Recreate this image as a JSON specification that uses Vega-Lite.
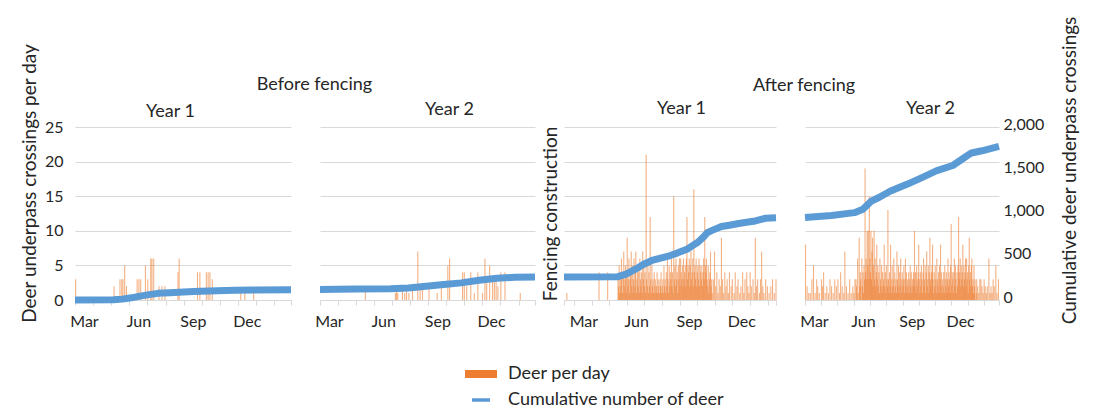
{
  "$schema": "https://vega.github.io/schema/vega-lite/v6.json",
  "background": "white",
  "padding": {"left": 20, "top": 15, "right": 4, "bottom": 5},
  "bounds": "flush",
  "spacing": 29,
  "config": {
    "font": "Lato",
    "view": {"stroke": null},
    "axis": {"labelFont": "Lato", "titleFont": "Lato", "labelColor": "#262626", "titleColor": "#262626", "titleFontWeight": "normal", "gridColor": "#d9d9d9", "gridWidth": 1},
    "title": {"font": "Lato", "fontWeight": "normal", "fontSize": 18, "color": "#262626", "frame": "group", "anchor": "middle"},
    "legend": {"labelFont": "Lato"}
  },
  "datasets": {
    "daily": [
      {"p":1,"d":1,"n":3},{"p":1,"d":66,"n":2},{"p":1,"d":76,"n":3},{"p":1,"d":79,"n":3},{"p":1,"d":81,"n":3},{"p":1,"d":84,"n":5},{"p":1,"d":87,"n":2},{"p":1,"d":105,"n":3},{"p":1,"d":108,"n":3},{"p":1,"d":111,"n":3},{"p":1,"d":119,"n":5},{"p":1,"d":123,"n":3},{"p":1,"d":128,"n":6},{"p":1,"d":130,"n":6},{"p":1,"d":133,"n":6},{"p":1,"d":142,"n":2},{"p":1,"d":147,"n":2},{"p":1,"d":152,"n":2},{"p":1,"d":174,"n":4},{"p":1,"d":176,"n":6},{"p":1,"d":207,"n":4},{"p":1,"d":211,"n":4},{"p":1,"d":222,"n":4},{"p":1,"d":225,"n":4},{"p":1,"d":228,"n":4},{"p":1,"d":232,"n":3},{"p":1,"d":280,"n":1},{"p":1,"d":287,"n":1},{"p":1,"d":302,"n":1},
      {"p":2,"d":77,"n":2},{"p":2,"d":128,"n":1},{"p":2,"d":130,"n":2},{"p":2,"d":132,"n":1},{"p":2,"d":140,"n":2},{"p":2,"d":144,"n":1},{"p":2,"d":147,"n":2},{"p":2,"d":151,"n":1},{"p":2,"d":157,"n":2},{"p":2,"d":166,"n":7},{"p":2,"d":170,"n":2},{"p":2,"d":174,"n":2},{"p":2,"d":185,"n":2},{"p":2,"d":199,"n":1},{"p":2,"d":206,"n":2},{"p":2,"d":217,"n":5},{"p":2,"d":220,"n":6},{"p":2,"d":242,"n":4},{"p":2,"d":245,"n":4},{"p":2,"d":249,"n":2},{"p":2,"d":256,"n":4},{"p":2,"d":262,"n":1},{"p":2,"d":268,"n":4},{"p":2,"d":276,"n":1},{"p":2,"d":280,"n":6},{"p":2,"d":283,"n":3},{"p":2,"d":288,"n":5},{"p":2,"d":293,"n":3},{"p":2,"d":296,"n":3},{"p":2,"d":299,"n":3},{"p":2,"d":302,"n":2},{"p":2,"d":307,"n":4},{"p":2,"d":314,"n":4},{"p":2,"d":340,"n":1},
      {"p":3,"d":-13,"n":1},{"p":3,"d":43,"n":4},{"p":3,"d":58,"n":4},
      {"p":3,"d":76,"n":3},{"p":3,"d":77,"n":2},{"p":3,"d":78,"n":5},{"p":3,"d":79,"n":1},{"p":3,"d":80,"n":4},{"p":3,"d":81,"n":2},{"p":3,"d":82,"n":6},{"p":3,"d":83,"n":3},{"p":3,"d":84,"n":1},{"p":3,"d":85,"n":4},{"p":3,"d":86,"n":7},{"p":3,"d":87,"n":2},{"p":3,"d":88,"n":3},{"p":3,"d":89,"n":5},{"p":3,"d":90,"n":1},{"p":3,"d":91,"n":4},{"p":3,"d":92,"n":9},{"p":3,"d":93,"n":2},{"p":3,"d":94,"n":3},{"p":3,"d":95,"n":6},{"p":3,"d":96,"n":1},{"p":3,"d":97,"n":3},{"p":3,"d":98,"n":4},{"p":3,"d":99,"n":7},{"p":3,"d":100,"n":2},{"p":3,"d":101,"n":5},{"p":3,"d":102,"n":1},{"p":3,"d":103,"n":3},{"p":3,"d":104,"n":6},{"p":3,"d":105,"n":2},{"p":3,"d":106,"n":4},{"p":3,"d":107,"n":7},{"p":3,"d":108,"n":1},{"p":3,"d":109,"n":3},{"p":3,"d":110,"n":5},{"p":3,"d":111,"n":2},{"p":3,"d":112,"n":4},{"p":3,"d":113,"n":1},{"p":3,"d":114,"n":6},{"p":3,"d":115,"n":3},{"p":3,"d":116,"n":2},{"p":3,"d":117,"n":4},{"p":3,"d":118,"n":1},{"p":3,"d":119,"n":7},{"p":3,"d":120,"n":3},{"p":3,"d":121,"n":5},{"p":3,"d":122,"n":2},{"p":3,"d":123,"n":4},{"p":3,"d":124,"n":1},{"p":3,"d":125,"n":21},{"p":3,"d":126,"n":3},{"p":3,"d":127,"n":2},{"p":3,"d":128,"n":5},{"p":3,"d":129,"n":1},{"p":3,"d":130,"n":4},{"p":3,"d":131,"n":2},{"p":3,"d":132,"n":12},{"p":3,"d":133,"n":3},{"p":3,"d":134,"n":1},{"p":3,"d":135,"n":5},{"p":3,"d":136,"n":2},{"p":3,"d":137,"n":3},{"p":3,"d":138,"n":1},{"p":3,"d":139,"n":4},{"p":3,"d":140,"n":2},{"p":3,"d":141,"n":3},{"p":3,"d":142,"n":1},{"p":3,"d":143,"n":2},{"p":3,"d":144,"n":4},{"p":3,"d":145,"n":1},{"p":3,"d":146,"n":3},{"p":3,"d":147,"n":2},{"p":3,"d":148,"n":1},{"p":3,"d":149,"n":3},{"p":3,"d":150,"n":2},{"p":3,"d":151,"n":4},{"p":3,"d":152,"n":1},{"p":3,"d":153,"n":2},{"p":3,"d":154,"n":3},{"p":3,"d":155,"n":1},{"p":3,"d":156,"n":5},{"p":3,"d":157,"n":2},{"p":3,"d":158,"n":3},{"p":3,"d":159,"n":1},{"p":3,"d":160,"n":4},{"p":3,"d":161,"n":2},{"p":3,"d":162,"n":6},{"p":3,"d":163,"n":3},{"p":3,"d":164,"n":1},{"p":3,"d":165,"n":5},{"p":3,"d":166,"n":2},{"p":3,"d":167,"n":4},{"p":3,"d":168,"n":3},{"p":3,"d":169,"n":6},{"p":3,"d":170,"n":2},{"p":3,"d":171,"n":4},{"p":3,"d":172,"n":1},{"p":3,"d":173,"n":15},{"p":3,"d":174,"n":3},{"p":3,"d":175,"n":5},{"p":3,"d":176,"n":2},{"p":3,"d":177,"n":6},{"p":3,"d":178,"n":3},{"p":3,"d":179,"n":4},{"p":3,"d":180,"n":1},{"p":3,"d":181,"n":5},{"p":3,"d":182,"n":3},{"p":3,"d":183,"n":6},{"p":3,"d":184,"n":2},{"p":3,"d":185,"n":6},{"p":3,"d":186,"n":4},{"p":3,"d":187,"n":3},{"p":3,"d":188,"n":5},{"p":3,"d":189,"n":2},{"p":3,"d":190,"n":6},{"p":3,"d":191,"n":3},{"p":3,"d":192,"n":4},{"p":3,"d":193,"n":5},{"p":3,"d":194,"n":2},{"p":3,"d":195,"n":6},{"p":3,"d":196,"n":12},{"p":3,"d":197,"n":3},{"p":3,"d":198,"n":5},{"p":3,"d":199,"n":4},{"p":3,"d":200,"n":6},{"p":3,"d":201,"n":2},{"p":3,"d":202,"n":5},{"p":3,"d":203,"n":7},{"p":3,"d":204,"n":3},{"p":3,"d":205,"n":4},{"p":3,"d":206,"n":6},{"p":3,"d":207,"n":2},{"p":3,"d":208,"n":16},{"p":3,"d":209,"n":4},{"p":3,"d":210,"n":5},{"p":3,"d":211,"n":3},{"p":3,"d":212,"n":6},{"p":3,"d":213,"n":2},{"p":3,"d":214,"n":4},{"p":3,"d":215,"n":5},{"p":3,"d":216,"n":3},{"p":3,"d":217,"n":6},{"p":3,"d":218,"n":2},{"p":3,"d":219,"n":5},{"p":3,"d":220,"n":4},{"p":3,"d":221,"n":3},{"p":3,"d":222,"n":5},{"p":3,"d":223,"n":2},{"p":3,"d":224,"n":4},{"p":3,"d":225,"n":6},{"p":3,"d":226,"n":3},{"p":3,"d":227,"n":12},{"p":3,"d":228,"n":5},{"p":3,"d":229,"n":4},{"p":3,"d":230,"n":6},{"p":3,"d":231,"n":3},{"p":3,"d":232,"n":2},{"p":3,"d":233,"n":5},{"p":3,"d":234,"n":1},{"p":3,"d":235,"n":3},{"p":3,"d":236,"n":4},{"p":3,"d":237,"n":7},{"p":3,"d":238,"n":2},{"p":3,"d":239,"n":3},{"p":3,"d":240,"n":1},
      {"p":3,"d":242,"n":3},{"p":3,"d":244,"n":7},{"p":3,"d":246,"n":2},{"p":3,"d":248,"n":4},{"p":3,"d":250,"n":1},{"p":3,"d":252,"n":3},{"p":3,"d":254,"n":2},{"p":3,"d":256,"n":9},{"p":3,"d":258,"n":3},{"p":3,"d":260,"n":1},{"p":3,"d":262,"n":4},{"p":3,"d":264,"n":2},{"p":3,"d":266,"n":3},{"p":3,"d":268,"n":1},{"p":3,"d":270,"n":4},{"p":3,"d":273,"n":2},{"p":3,"d":275,"n":3},{"p":3,"d":278,"n":1},{"p":3,"d":280,"n":4},{"p":3,"d":283,"n":2},{"p":3,"d":285,"n":3},{"p":3,"d":288,"n":1},{"p":3,"d":290,"n":2},{"p":3,"d":293,"n":4},{"p":3,"d":295,"n":1},{"p":3,"d":297,"n":3},{"p":3,"d":300,"n":4},{"p":3,"d":302,"n":2},{"p":3,"d":304,"n":1},{"p":3,"d":306,"n":4},{"p":3,"d":308,"n":2},{"p":3,"d":311,"n":3},{"p":3,"d":313,"n":1},{"p":3,"d":315,"n":9},{"p":3,"d":317,"n":2},{"p":3,"d":319,"n":3},{"p":3,"d":322,"n":1},{"p":3,"d":324,"n":3},{"p":3,"d":326,"n":7},{"p":3,"d":328,"n":2},{"p":3,"d":330,"n":1},{"p":3,"d":333,"n":3},{"p":3,"d":336,"n":2},{"p":3,"d":339,"n":1},{"p":3,"d":342,"n":2},{"p":3,"d":345,"n":3},{"p":3,"d":348,"n":1},{"p":3,"d":351,"n":3},
      {"p":4,"d":1,"n":8},{"p":4,"d":4,"n":2},{"p":4,"d":7,"n":1},{"p":4,"d":10,"n":1},{"p":4,"d":13,"n":3},{"p":4,"d":16,"n":5},{"p":4,"d":19,"n":1},{"p":4,"d":22,"n":3},{"p":4,"d":24,"n":2},{"p":4,"d":27,"n":1},{"p":4,"d":31,"n":3},{"p":4,"d":33,"n":2},{"p":4,"d":35,"n":4},{"p":4,"d":38,"n":1},{"p":4,"d":41,"n":2},{"p":4,"d":44,"n":1},{"p":4,"d":47,"n":3},{"p":4,"d":50,"n":2},{"p":4,"d":53,"n":1},{"p":4,"d":56,"n":3},{"p":4,"d":59,"n":2},{"p":4,"d":62,"n":3},{"p":4,"d":65,"n":1},{"p":4,"d":67,"n":4},{"p":4,"d":70,"n":2},{"p":4,"d":73,"n":1},{"p":4,"d":75,"n":7},{"p":4,"d":78,"n":2},{"p":4,"d":81,"n":1},{"p":4,"d":84,"n":3},{"p":4,"d":87,"n":1},{"p":4,"d":90,"n":2},{"p":4,"d":92,"n":1},{"p":4,"d":94,"n":3},{"p":4,"d":96,"n":3},{"p":4,"d":97,"n":2},{"p":4,"d":99,"n":6},{"p":4,"d":100,"n":1},{"p":4,"d":102,"n":9},{"p":4,"d":103,"n":2},{"p":4,"d":104,"n":4},{"p":4,"d":105,"n":3},{"p":4,"d":107,"n":6},{"p":4,"d":108,"n":2},{"p":4,"d":109,"n":4},{"p":4,"d":110,"n":1},{"p":4,"d":111,"n":5},{"p":4,"d":112,"n":3},{"p":4,"d":113,"n":19},{"p":4,"d":114,"n":4},{"p":4,"d":115,"n":6},{"p":4,"d":116,"n":3},{"p":4,"d":117,"n":10},{"p":4,"d":118,"n":5},{"p":4,"d":119,"n":10},{"p":4,"d":120,"n":3},{"p":4,"d":121,"n":15},{"p":4,"d":122,"n":6},{"p":4,"d":123,"n":4},{"p":4,"d":124,"n":10},{"p":4,"d":125,"n":3},{"p":4,"d":126,"n":7},{"p":4,"d":127,"n":9},{"p":4,"d":128,"n":2},{"p":4,"d":129,"n":5},{"p":4,"d":130,"n":10},{"p":4,"d":131,"n":3},{"p":4,"d":132,"n":6},{"p":4,"d":133,"n":2},{"p":4,"d":134,"n":4},{"p":4,"d":135,"n":8},{"p":4,"d":136,"n":3},{"p":4,"d":137,"n":5},{"p":4,"d":138,"n":2},{"p":4,"d":139,"n":4},{"p":4,"d":140,"n":1},{"p":4,"d":141,"n":6},{"p":4,"d":142,"n":3},{"p":4,"d":143,"n":2},{"p":4,"d":144,"n":5},{"p":4,"d":145,"n":1},{"p":4,"d":146,"n":4},{"p":4,"d":147,"n":2},{"p":4,"d":148,"n":3},{"p":4,"d":149,"n":8},{"p":4,"d":150,"n":2},{"p":4,"d":151,"n":4},{"p":4,"d":152,"n":1},{"p":4,"d":153,"n":5},{"p":4,"d":154,"n":3},{"p":4,"d":155,"n":2},{"p":4,"d":156,"n":13},{"p":4,"d":157,"n":3},{"p":4,"d":158,"n":1},{"p":4,"d":159,"n":4},{"p":4,"d":160,"n":2},{"p":4,"d":161,"n":8},{"p":4,"d":162,"n":3},{"p":4,"d":163,"n":1},{"p":4,"d":164,"n":5},{"p":4,"d":165,"n":2},{"p":4,"d":166,"n":3},{"p":4,"d":167,"n":6},{"p":4,"d":168,"n":1},{"p":4,"d":169,"n":4},{"p":4,"d":170,"n":2},{"p":4,"d":171,"n":3},{"p":4,"d":172,"n":1},{"p":4,"d":173,"n":7},{"p":4,"d":174,"n":3},{"p":4,"d":175,"n":2},{"p":4,"d":176,"n":5},{"p":4,"d":177,"n":1},{"p":4,"d":178,"n":4},{"p":4,"d":179,"n":2},{"p":4,"d":180,"n":6},{"p":4,"d":181,"n":3},{"p":4,"d":182,"n":1},{"p":4,"d":183,"n":4},{"p":4,"d":184,"n":2},{"p":4,"d":185,"n":3},{"p":4,"d":186,"n":5},{"p":4,"d":187,"n":1},{"p":4,"d":188,"n":3},{"p":4,"d":189,"n":6},{"p":4,"d":190,"n":2},{"p":4,"d":191,"n":4},{"p":4,"d":192,"n":1},{"p":4,"d":193,"n":3},{"p":4,"d":194,"n":2},{"p":4,"d":195,"n":4},{"p":4,"d":196,"n":1},{"p":4,"d":197,"n":3},{"p":4,"d":198,"n":5},{"p":4,"d":199,"n":2},{"p":4,"d":200,"n":4},{"p":4,"d":201,"n":1},{"p":4,"d":202,"n":3},{"p":4,"d":203,"n":2},{"p":4,"d":204,"n":4},{"p":4,"d":205,"n":3},{"p":4,"d":206,"n":10},{"p":4,"d":207,"n":2},{"p":4,"d":208,"n":4},{"p":4,"d":209,"n":1},{"p":4,"d":210,"n":5},{"p":4,"d":211,"n":3},{"p":4,"d":212,"n":2},{"p":4,"d":213,"n":4},{"p":4,"d":214,"n":8},{"p":4,"d":215,"n":3},{"p":4,"d":216,"n":1},{"p":4,"d":217,"n":4},{"p":4,"d":218,"n":2},{"p":4,"d":219,"n":5},{"p":4,"d":220,"n":3},{"p":4,"d":221,"n":1},{"p":4,"d":222,"n":4},{"p":4,"d":223,"n":6},{"p":4,"d":224,"n":2},{"p":4,"d":225,"n":3},{"p":4,"d":226,"n":5},{"p":4,"d":227,"n":1},{"p":4,"d":228,"n":4},{"p":4,"d":229,"n":7},{"p":4,"d":230,"n":2},{"p":4,"d":231,"n":3},{"p":4,"d":232,"n":5},{"p":4,"d":233,"n":1},{"p":4,"d":234,"n":4},{"p":4,"d":235,"n":9},{"p":4,"d":236,"n":3},{"p":4,"d":237,"n":2},{"p":4,"d":238,"n":4},{"p":4,"d":239,"n":5},{"p":4,"d":240,"n":8},{"p":4,"d":241,"n":3},{"p":4,"d":242,"n":1},{"p":4,"d":243,"n":4},{"p":4,"d":244,"n":2},{"p":4,"d":245,"n":5},{"p":4,"d":246,"n":3},{"p":4,"d":247,"n":1},{"p":4,"d":248,"n":6},{"p":4,"d":249,"n":3},{"p":4,"d":250,"n":2},{"p":4,"d":251,"n":4},{"p":4,"d":252,"n":1},{"p":4,"d":253,"n":5},{"p":4,"d":254,"n":3},{"p":4,"d":255,"n":8},{"p":4,"d":256,"n":2},{"p":4,"d":257,"n":4},{"p":4,"d":258,"n":1},{"p":4,"d":259,"n":3},{"p":4,"d":260,"n":2},{"p":4,"d":261,"n":4},{"p":4,"d":262,"n":1},{"p":4,"d":263,"n":5},{"p":4,"d":264,"n":3},{"p":4,"d":265,"n":2},{"p":4,"d":266,"n":4},{"p":4,"d":267,"n":1},{"p":4,"d":268,"n":3},{"p":4,"d":269,"n":6},{"p":4,"d":270,"n":2},{"p":4,"d":271,"n":4},{"p":4,"d":272,"n":3},{"p":4,"d":273,"n":1},{"p":4,"d":274,"n":5},{"p":4,"d":275,"n":11},{"p":4,"d":276,"n":2},{"p":4,"d":277,"n":4},{"p":4,"d":278,"n":3},{"p":4,"d":279,"n":1},{"p":4,"d":280,"n":4},{"p":4,"d":281,"n":6},{"p":4,"d":282,"n":2},{"p":4,"d":283,"n":5},{"p":4,"d":284,"n":3},{"p":4,"d":285,"n":1},{"p":4,"d":286,"n":4},{"p":4,"d":287,"n":2},{"p":4,"d":288,"n":5},{"p":4,"d":289,"n":12},{"p":4,"d":290,"n":3},{"p":4,"d":291,"n":4},{"p":4,"d":292,"n":6},{"p":4,"d":293,"n":2},{"p":4,"d":294,"n":5},{"p":4,"d":295,"n":3},{"p":4,"d":296,"n":4},{"p":4,"d":297,"n":8},{"p":4,"d":298,"n":2},{"p":4,"d":299,"n":5},{"p":4,"d":300,"n":3},{"p":4,"d":301,"n":4},{"p":4,"d":302,"n":6},{"p":4,"d":303,"n":2},{"p":4,"d":304,"n":6},{"p":4,"d":305,"n":3},{"p":4,"d":306,"n":4},{"p":4,"d":307,"n":1},{"p":4,"d":308,"n":5},{"p":4,"d":309,"n":9},{"p":4,"d":310,"n":3},{"p":4,"d":311,"n":4},{"p":4,"d":312,"n":2},{"p":4,"d":313,"n":5},{"p":4,"d":314,"n":6},{"p":4,"d":315,"n":2},{"p":4,"d":316,"n":3},{"p":4,"d":317,"n":1},{"p":4,"d":318,"n":5},{"p":4,"d":319,"n":2},{"p":4,"d":320,"n":3},{"p":4,"d":322,"n":1},{"p":4,"d":323,"n":3},{"p":4,"d":325,"n":2},{"p":4,"d":327,"n":1},{"p":4,"d":329,"n":3},{"p":4,"d":331,"n":3},{"p":4,"d":333,"n":2},{"p":4,"d":335,"n":1},{"p":4,"d":337,"n":3},{"p":4,"d":339,"n":2},{"p":4,"d":341,"n":1},{"p":4,"d":343,"n":2},{"p":4,"d":346,"n":6},{"p":4,"d":348,"n":1},{"p":4,"d":350,"n":2},{"p":4,"d":352,"n":1},{"p":4,"d":354,"n":3},{"p":4,"d":356,"n":2},{"p":4,"d":359,"n":5},{"p":4,"d":361,"n":1},{"p":4,"d":364,"n":3}
    ],
    "cum": [
      {"p":1,"d":0,"c":0},{"p":1,"d":65,"c":2},{"p":1,"d":80,"c":10},{"p":1,"d":95,"c":25},{"p":1,"d":110,"c":45},{"p":1,"d":125,"c":62},{"p":1,"d":140,"c":77},{"p":1,"d":160,"c":85},{"p":1,"d":200,"c":98},{"p":1,"d":240,"c":108},{"p":1,"d":270,"c":113},{"p":1,"d":300,"c":116},{"p":1,"d":365,"c":118},
      {"p":2,"d":0,"c":120},{"p":2,"d":60,"c":128},{"p":2,"d":120,"c":130},{"p":2,"d":150,"c":140},{"p":2,"d":180,"c":158},{"p":2,"d":210,"c":178},{"p":2,"d":240,"c":198},{"p":2,"d":270,"c":228},{"p":2,"d":300,"c":252},{"p":2,"d":330,"c":262},{"p":2,"d":365,"c":265},
      {"p":3,"d":-18,"c":267},{"p":3,"d":76,"c":270},{"p":3,"d":90,"c":300},{"p":3,"d":108,"c":362},{"p":3,"d":120,"c":410},{"p":3,"d":135,"c":457},{"p":3,"d":150,"c":485},{"p":3,"d":167,"c":514},{"p":3,"d":180,"c":545},{"p":3,"d":197,"c":590},{"p":3,"d":205,"c":625},{"p":3,"d":215,"c":667},{"p":3,"d":225,"c":730},{"p":3,"d":232,"c":781},{"p":3,"d":240,"c":805},{"p":3,"d":256,"c":850},{"p":3,"d":270,"c":865},{"p":3,"d":286,"c":884},{"p":3,"d":300,"c":898},{"p":3,"d":315,"c":914},{"p":3,"d":333,"c":945},{"p":3,"d":351,"c":950},
      {"p":4,"d":0,"c":955},{"p":4,"d":50,"c":978},{"p":4,"d":93,"c":1010},{"p":4,"d":109,"c":1050},{"p":4,"d":124,"c":1140},{"p":4,"d":139,"c":1185},{"p":4,"d":161,"c":1260},{"p":4,"d":193,"c":1340},{"p":4,"d":222,"c":1420},{"p":4,"d":248,"c":1495},{"p":4,"d":278,"c":1555},{"p":4,"d":296,"c":1630},{"p":4,"d":313,"c":1700},{"p":4,"d":333,"c":1725},{"p":4,"d":365,"c":1775}
    ]
  },
  "hconcat": [
    {
      "width": 216, "height": 173,
      "layer": [
        {
          "data": {"name": "daily"},
          "transform": [{"filter": "datum.p == 1"}],
          "mark": {"type": "rule", "strokeWidth": 1.1, "opacity": 0.6},
          "encoding": {
            "x": {"field": "d", "type": "quantitative", "scale": {"domain": [0, 365], "nice": false, "zero": false},
                  "axis": {"values": [0,31,61,92,122,153,184,214,245,275,306,337,365], "labelExpr": "datum.value==0?'Mar':datum.value==92?'Jun':datum.value==184?'Sep':datum.value==275?'Dec':''", "labelOffset": 9, "title": null, "grid": false, "domainColor": "#d9d9d9", "tickColor": "#d9d9d9", "tickSize": 5, "labelFontSize": 16, "labelPadding": 8, "labelFlush": false, "labelOverlap": false, "labelBound": false}},
            "y": {"field": "n", "type": "quantitative", "scale": {"domain": [0, 25]},
                  "axis": {"values": [0,5,10,15,20,25], "title": "Deer underpass crossings per day", "titleFontSize": 19, "titleY": 56, "titlePadding": 5, "labelFontSize": 16, "labelPadding": 12, "ticks": false, "domain": false, "grid": true}},
            "y2": {"datum": 0},
            "color": {"datum": "Deer per day", "type": "nominal",
                      "scale": {"domain": ["Deer per day", "Cumulative number of deer"], "range": ["#ED7D31", "#5B9BD5"]},
                      "legend": {"orient": "none", "legendX": 397, "legendY": 238, "direction": "vertical", "title": null, "labelFontSize": 18, "labelColor": "#262626", "labelLimit": 400, "symbolType": "stroke", "symbolSize": 324, "symbolStrokeWidth": 3, "labelOffset": 18, "rowPadding": 1,
                                 "encoding": {"symbols": {
                                   "strokeWidth": {"value": {"expr": "datum.value === 'Deer per day' ? 8 : 3.5"}},
                                   "size": {"value": {"expr": "datum.value === 'Deer per day' ? 1024 : 324"}},
                                   "stroke": {"value": {"expr": "datum.value === 'Deer per day' ? '#F4731F' : '#2E75B6'"}},
                                   "opacity": {"value": 1}}}}}
          }
        },
        {
          "data": {"name": "cum"},
          "transform": [{"filter": "datum.p == 1"}],
          "mark": {"type": "line", "strokeWidth": 7, "strokeCap": "butt", "strokeJoin": "round"},
          "encoding": {
            "x": {"field": "d", "type": "quantitative",
                  "axis": {"orient": "top", "labels": false, "ticks": false, "domain": false, "grid": false, "title": "Year 1", "titleX": 95, "titlePadding": 7, "titleFontSize": 18}},
            "y": {"field": "c", "type": "quantitative", "scale": {"domain": [0, 2000]}, "axis": null},
            "color": {"datum": "Cumulative number of deer", "type": "nominal"}
          }
        }
      ],
      "resolve": {"scale": {"y": "independent"}, "axis": {"x": "independent"}}
    },
    {
      "width": 215, "height": 173,
      "title": {"text": "Before fencing", "dx": -113, "offset": 6},
      "layer": [
        {
          "data": {"name": "daily"},
          "transform": [{"filter": "datum.p == 2"}],
          "mark": {"type": "rule", "strokeWidth": 1.1, "opacity": 0.6},
          "encoding": {
            "x": {"field": "d", "type": "quantitative", "scale": {"domain": [0, 365], "nice": false, "zero": false},
                  "axis": {"values": [0,31,61,92,122,153,184,214,245,275,306,337,365], "labelExpr": "datum.value==0?'Mar':datum.value==92?'Jun':datum.value==184?'Sep':datum.value==275?'Dec':''", "labelOffset": 9, "title": null, "grid": false, "domainColor": "#d9d9d9", "tickColor": "#d9d9d9", "tickSize": 5, "labelFontSize": 16, "labelPadding": 8, "labelFlush": false, "labelOverlap": false, "labelBound": false}},
            "y": {"field": "n", "type": "quantitative", "scale": {"domain": [0, 25]},
                  "axis": {"values": [0,5,10,15,20,25], "title": null, "labels": false, "ticks": false, "domain": false, "grid": true}},
            "y2": {"datum": 0},
            "color": {"datum": "Deer per day", "type": "nominal"}
          }
        },
        {
          "data": {"name": "cum"},
          "transform": [{"filter": "datum.p == 2"}],
          "mark": {"type": "line", "strokeWidth": 7, "strokeCap": "butt", "strokeJoin": "round"},
          "encoding": {
            "x": {"field": "d", "type": "quantitative",
                  "axis": {"orient": "top", "labels": false, "ticks": false, "domain": false, "grid": false, "title": "Year 2", "titleX": 129, "titlePadding": 9, "titleFontSize": 18}},
            "y": {"field": "c", "type": "quantitative", "scale": {"domain": [0, 2000]}, "axis": null},
            "color": {"datum": "Cumulative number of deer", "type": "nominal"}
          }
        }
      ],
      "resolve": {"scale": {"y": "independent"}, "axis": {"x": "independent"}}
    },
    {
      "width": 212, "height": 173,
      "title": {"text": "After fencing", "dx": 134, "offset": 4},
      "layer": [
        {
          "data": {"name": "daily"},
          "transform": [{"filter": "datum.p == 3"}],
          "mark": {"type": "rule", "strokeWidth": 1.1, "opacity": 0.6},
          "encoding": {
            "x": {"field": "d", "type": "quantitative", "scale": {"domain": [-18, 351], "nice": false, "zero": false},
                  "axis": {"values": [-18,0,31,61,92,122,153,184,214,245,275,306,337,351], "labelExpr": "datum.value==0?'Mar':datum.value==92?'Jun':datum.value==184?'Sep':datum.value==275?'Dec':''", "labelOffset": 9, "title": null, "grid": false, "domainColor": "#d9d9d9", "tickColor": "#d9d9d9", "tickSize": 5, "labelFontSize": 16, "labelPadding": 8, "labelFlush": false, "labelOverlap": false, "labelBound": false}},
            "y": {"field": "n", "type": "quantitative", "scale": {"domain": [0, 25]},
                  "axis": {"values": [0,5,10,15,20,25], "title": "Fencing construction", "titleFontSize": 19, "titlePadding": 4, "labels": false, "ticks": false, "domain": false, "grid": true}},
            "y2": {"datum": 0},
            "color": {"datum": "Deer per day", "type": "nominal"}
          }
        },
        {
          "data": {"name": "cum"},
          "transform": [{"filter": "datum.p == 3"}],
          "mark": {"type": "line", "strokeWidth": 7, "strokeCap": "butt", "strokeJoin": "round"},
          "encoding": {
            "x": {"field": "d", "type": "quantitative",
                  "axis": {"orient": "top", "labels": false, "ticks": false, "domain": false, "grid": false, "title": "Year 1", "titleX": 117, "titlePadding": 10, "titleFontSize": 18}},
            "y": {"field": "c", "type": "quantitative", "scale": {"domain": [0, 2000]}, "axis": null},
            "color": {"datum": "Cumulative number of deer", "type": "nominal"}
          }
        }
      ],
      "resolve": {"scale": {"y": "independent"}, "axis": {"x": "independent"}}
    },
    {
      "width": 194, "height": 173,
      "layer": [
        {
          "data": {"name": "daily"},
          "transform": [{"filter": "datum.p == 4"}],
          "mark": {"type": "rule", "strokeWidth": 1.1, "opacity": 0.6},
          "encoding": {
            "x": {"field": "d", "type": "quantitative", "scale": {"domain": [0, 365], "nice": false, "zero": false},
                  "axis": {"values": [0,31,61,92,122,153,184,214,245,275,306,337,365], "labelExpr": "datum.value==0?'Mar':datum.value==92?'Jun':datum.value==184?'Sep':datum.value==275?'Dec':''", "labelOffset": 9, "title": null, "grid": false, "domainColor": "#d9d9d9", "tickColor": "#d9d9d9", "tickSize": 5, "labelFontSize": 16, "labelPadding": 8, "labelFlush": false, "labelOverlap": false, "labelBound": false}},
            "y": {"field": "n", "type": "quantitative", "scale": {"domain": [0, 25]},
                  "axis": {"orient": "left", "values": [0,5,10,15,20,25], "title": null, "labels": false, "ticks": false, "domain": false, "grid": true}},
            "y2": {"datum": 0},
            "color": {"datum": "Deer per day", "type": "nominal"}
          }
        },
        {
          "data": {"name": "cum"},
          "transform": [{"filter": "datum.p == 4"}],
          "mark": {"type": "line", "strokeWidth": 7, "strokeCap": "butt", "strokeJoin": "round"},
          "encoding": {
            "x": {"field": "d", "type": "quantitative",
                  "axis": {"orient": "top", "labels": false, "ticks": false, "domain": false, "grid": false, "title": "Year 2", "titleX": 125, "titlePadding": 10, "titleFontSize": 18}},
            "y": {"field": "c", "type": "quantitative", "scale": {"domain": [0, 2000]},
                  "axis": {"orient": "right", "values": [0,500,1000,1500,2000], "format": ",.0f", "title": "Cumulative deer underpass crossings", "titleAngle": 270, "titleY": 43, "titleFontSize": 19, "titlePadding": 36, "labelFontSize": 16, "labelPadding": 4, "labelOffset": -3, "ticks": false, "domain": false, "grid": false}},
            "color": {"datum": "Cumulative number of deer", "type": "nominal"}
          }
        }
      ],
      "resolve": {"scale": {"y": "independent"}, "axis": {"x": "independent"}}
    }
  ]
}
